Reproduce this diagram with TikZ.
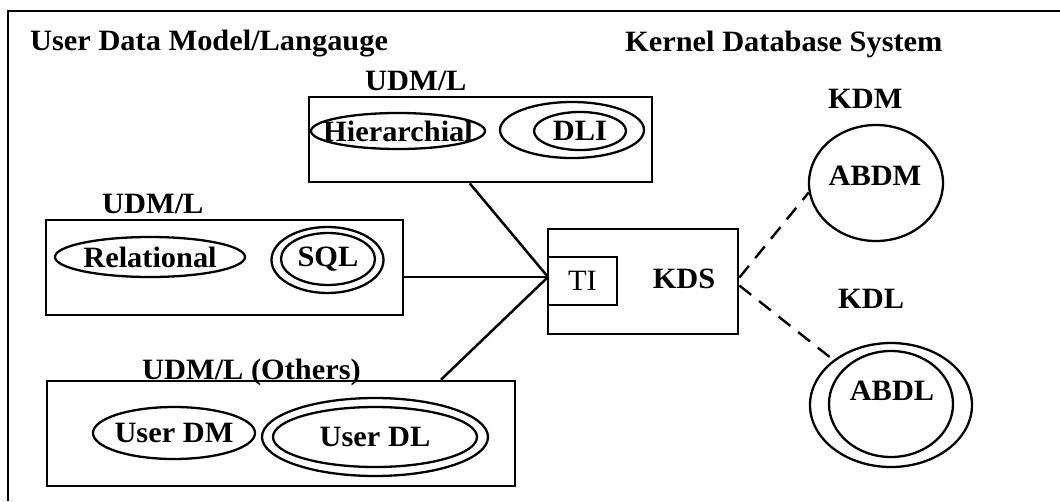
\documentclass[tikz,border=0pt]{standalone}
\usepackage{fontspec}
\setmainfont{Liberation Serif}[FakeStretch=1.03]
\usetikzlibrary{shapes.geometric,calc}

\newcommand{\diagfont}{\fontsize{29.5}{33}\selectfont}

\tikzset{
  frameline/.style={line width=2.4pt},
  box/.style={draw, rectangle, line width=2.8pt, inner sep=0pt},
  oval/.style={draw, ellipse, line width=2.3pt, inner sep=0pt},
  plain/.style={font=\diagfont, inner sep=0pt},
  txt/.style={font=\diagfont\bfseries, inner sep=0pt},
  lbl/.style={font=\diagfont\bfseries, inner sep=0pt, anchor=base west},
  link/.style={line width=2.5pt},
  dashlink/.style={line width=2.4pt, dash pattern=on 15pt off 10pt},
}

\begin{document}
\begin{tikzpicture}[x=1pt, y=-1pt]
  \useasboundingbox (0,0) rectangle (1060,501);

  % outer frame (top and left edges)
  \coordinate (ftl) at (8,11);
  \coordinate (ftr) at (1060,11);
  \coordinate (fbl) at (8,501);
  \draw[frameline] (fbl) -- (ftl) -- (ftr);

  % section titles
  \node[lbl] (udmtitle) at (30,50) {User Data Model/Langauge};
  \node[lbl] (kdstitle) at (625,51) {Kernel Database System};

  % hierarchical model/language
  \node[lbl] (udm1) at (365,90) {UDM/L};
  \node[box, minimum width=343pt, minimum height=85pt] (topbox) at (480.5,139.5) {};
  \node[oval, minimum width=174pt, minimum height=36pt] (hier) at (398,131) {};
  \node[txt] (hiertxt) at (hier.center) {Hierarchial};
  \node[oval, minimum width=144pt, minimum height=56pt] (dliout) at (572,130) {};
  \node[oval, minimum width=92pt, minimum height=38pt] (dliin) at (580,131) {};
  \node[txt] (dlitxt) at (dliin.center) {DLI};

  % relational model/language
  \node[lbl] (udm2) at (102,213) {UDM/L};
  \node[box, minimum width=357pt, minimum height=95pt] (leftbox) at (224.5,267.5) {};
  \node[oval, minimum width=190pt, minimum height=40pt] (rel) at (150,257) {};
  \node[txt] (reltxt) at (rel.center) {Relational};
  \node[oval, minimum width=112pt, minimum height=66pt] (sqlout) at (327.5,260) {};
  \node[oval, minimum width=94pt, minimum height=52pt] (sqlin) at (328,259) {};
  \node[txt] (sqltxt) at (sqlin.center) {SQL};

  % other user models/languages
  \node[lbl] (udm3) at (142,379) {UDM/L (Others)};
  \node[box, minimum width=468pt, minimum height=105pt] (botbox) at (281,433.5) {};
  \node[oval, minimum width=162pt, minimum height=52pt] (udm) at (174,433) {};
  \node[txt] (udmtxt) at (udm.center) {User DM};
  \node[oval, minimum width=226pt, minimum height=78pt] (udlout) at (375,437) {};
  \node[oval, minimum width=204pt, minimum height=60pt] (udlin) at (375,437) {};
  \node[txt] (udltxt) at (udlin.center) {User DL};

  % kernel database system
  \node[box, minimum width=190pt, minimum height=105pt] (kds) at (643,281.5) {};
  \node[box, line width=2.3pt, minimum width=69pt, minimum height=48pt] (ti) at (582.5,281) {};
  \node[plain] (titxt) at (ti.center) {TI};
  \node[txt] (kdstxt) at (684,279) {KDS};
  \coordinate (join) at (548,277);

  % kernel data model
  \node[lbl] (kdmlbl) at (828,108) {KDM};
  \node[oval, minimum width=134pt, minimum height=116pt] (abdm) at (876,183) {};
  \node[txt] (abdmtxt) at (875,176) {ABDM};

  % kernel data language
  \node[lbl] (kdllbl) at (838,308) {KDL};
  \node[oval, minimum width=162pt, minimum height=124pt] (abdlout) at (891,405) {};
  \node[oval, minimum width=124pt, minimum height=106pt] (abdlin) at (891,404) {};
  \node[txt] (abdltxt) at (892,391) {ABDL};

  % connectors into the translation interface
  \draw[link] ($(topbox.south west)!0.469!(topbox.south east)$) -- (join);
  \draw[link] (join -| leftbox.east) -- (join);
  \draw[link] ($(botbox.north west)!0.84!(botbox.north east)$) -- (join);

  % connectors to the kernel model and language
  \draw[dashlink] ([yshift=4pt]kds.east) -- (abdm.188);
  \draw[dashlink] ([yshift=-4pt]kds.east) -- (abdlout.142);
\end{tikzpicture}
\end{document}
